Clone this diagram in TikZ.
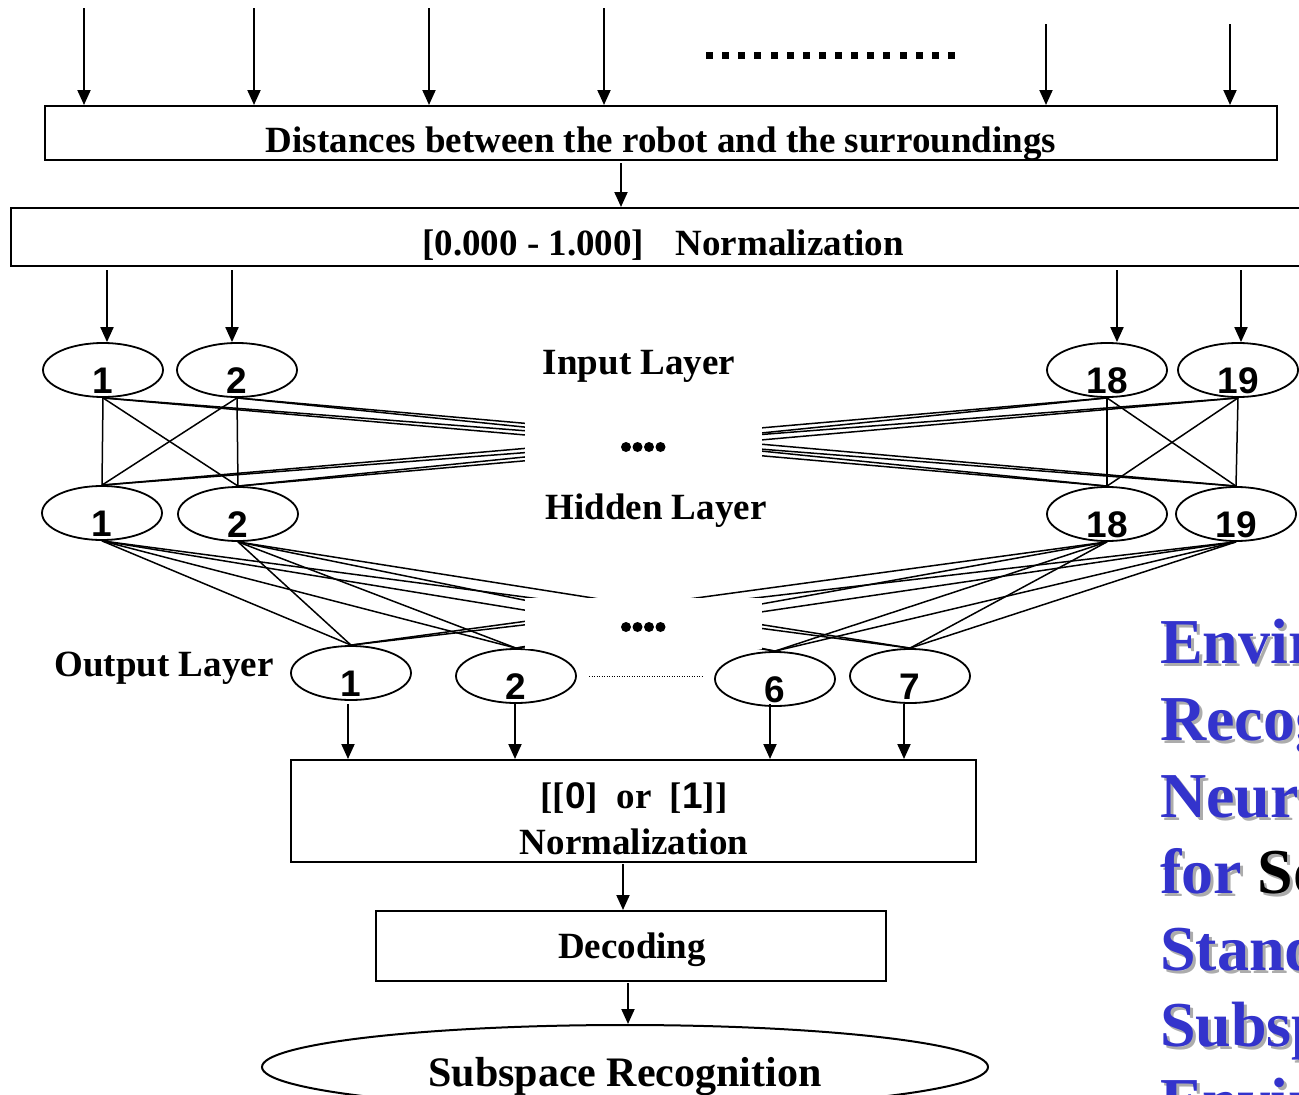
\documentclass[tikz,border=0pt]{standalone}
\usepackage{fontspec}
\setmainfont{Liberation Serif}
\newfontfamily\digitfont{Liberation Sans}
\usetikzlibrary{arrows.meta,shapes.geometric,calc}

\definecolor{titleblue}{RGB}{51,51,204}
\definecolor{shadowgray}{RGB}{172,172,172}

\tikzset{
  frame/.style={draw, line width=2pt, inner sep=0pt},
  neuron/.style={ellipse, draw, line width=1.8pt, minimum width=120pt, minimum height=54pt,
    inner sep=0pt},
  num/.style={inner sep=0pt, yshift=-11pt, font=\digitfont\bfseries\fontsize{37}{37}\selectfont},
  arr/.style={-{Triangle[length=15pt,width=13pt]}, line width=2pt},
  link/.style={line width=1.5pt},
  caption/.style={inner sep=0pt, font=\bfseries\fontsize{37}{44}\selectfont},
  title/.style={anchor=base west, inner sep=0pt, font=\bfseries\fontsize{64}{76}\selectfont},
}

\begin{document}
\begin{tikzpicture}[x=1pt,y=-1pt]
\useasboundingbox (0,0) rectangle (1299,1095);
\clip (0,0) rectangle (1299,1095);

% ---- sensor readings -------------------------------------------------
\node[frame, minimum width=1232pt, minimum height=54pt] (dist) at (661,133) {};
\node[caption] (distT) at (661,144) {Distances between the robot and the surroundings};

\foreach \x/\y [count=\k] in {84/8, 254/8, 429/8, 604/8, 1046/24, 1230/24} {
  \coordinate (top\k) at (\x,\y);
  \draw[arr] (top\k) -- (top\k |- dist.north);
}
\foreach \k in {0,...,15}
  \fill (706+\k*16.13, 51.5) rectangle ++(7,7);

% ---- normalisation ---------------------------------------------------
\node[frame, minimum width=1299pt, minimum height=58pt] (nrm) at (660.5,237) {};
\node[caption] (nrmT) at (663,245) {[0.000 - 1.000]\hspace{0.85em}Normalization};
\coordinate (d2n) at (621,163);
\draw[arr] (d2n) -- (d2n |- nrm.north);

% ---- neurons -----------------------------------------------------------
\foreach \n/\x/\y/\t in {i1/103/370/1, i2/237/370/2, i18/1107/370/18, i19/1238/370/19,
                         h1/102/513/1, h2/238/514/2, h18/1107/514/18, h19/1236/514/19,
                         o1/351/673/1, o2/516/676/2, o6/775/679/6, o7/910/676/7}
  \node[neuron, label={[num, name=\n-t]center:\t}] (\n) at (\x,\y) {};

\foreach \x/\n in {107/i1, 232/i2, 1117/i18, 1241/i19} {
  \coordinate (in\n) at (\x,270);
  \draw[arr] (in\n) -- (in\n |- \n.north);
}

% ---- weights -----------------------------------------------------------
\foreach \a in {i1,i2,i18,i19}
  \foreach \b in {h1,h2,h18,h19}
    \draw[link] (\a.south) -- (\b.north);
\foreach \a in {h1,h2,h18,h19}
  \foreach \b in {o1,o2,o6,o7}
    \draw[link] (\a.south) -- (\b.north);

% omitted neurons in the middle of each layer
\fill[white] (525,403) rectangle (762,481);
\fill[white] (525,598) rectangle (762,649);
\foreach \k in {0,...,3} {
  \fill (626+\k*11.5, 447) circle (5);
  \fill (626+\k*11.5, 627) circle (5);
}
\coordinate (dl) at (589,676);
\coordinate (dr) at (703,676);
\draw[line width=1pt, dash pattern=on 1pt off 1.5pt] (dl) -- (dr);

\node[caption] (inL)  at (639,366) {Input Layer};
\node[caption] (hidL) at (656,511) {Hidden Layer};
\node[caption] (outL) at (164,668) {Output Layer};

% ---- binary output -------------------------------------------------------
\node[frame, minimum width=685pt, minimum height=102pt] (bin) at (633.5,811) {};
\node[caption] (binA) at (634,798) {[[{\digitfont 0}]\hspace{0.5em}or\hspace{0.5em}[{\digitfont 1}]]};
\node[caption] (binB) at (634,842) {Normalization};
\foreach \x/\n in {348/o1, 515/o2, 770/o6, 904/o7} {
  \coordinate (out\n) at (\x,704);
  \draw[arr] (out\n) -- (out\n |- bin.north);
}

\node[frame, minimum width=510pt, minimum height=70pt] (dec) at (631,946) {};
\node[caption] (decT) at (632,950) {Decoding};
\coordinate (b2d) at (623,864);
\draw[arr] (b2d) -- (b2d |- dec.north);

\node[ellipse, draw, line width=2pt, minimum width=726pt, minimum height=84pt, inner sep=0pt]
  (rec) at (625,1067) {};
\node[inner sep=0pt, font=\bfseries\fontsize{42}{50}\selectfont] (recT) at (625,1077) {Subspace Recognition};
\coordinate (d2r) at (628,983);
\draw[arr] (d2r) -- (d2r |- rec.north);

% ---- title with drop shadow ---------------------------------------------
\foreach \d/\c/\s in {3/shadowgray/shadowgray, 0/titleblue/black} {
  \node[title, text=\c] (t1\c) at (1160+\d, 663+\d) {Environment};
  \node[title, text=\c] (t2\c) at (1160+\d, 740+\d) {Recognition};
  \node[title, text=\c] (t3\c) at (1160+\d, 817+\d) {Neural};
  \node[title, text=\c] (t4\c) at (1160+\d, 893+\d) {for \textcolor{\s}{Sonar}};
  \node[title, text=\c] (t5\c) at (1160+\d, 970+\d) {Standard};
  \node[title, text=\c] (t6\c) at (1160+\d, 1046+\d) {Subspace};
  \node[title, text=\c] (t7\c) at (1160+\d, 1122+\d) {Environments};
}
\end{tikzpicture}
\end{document}
